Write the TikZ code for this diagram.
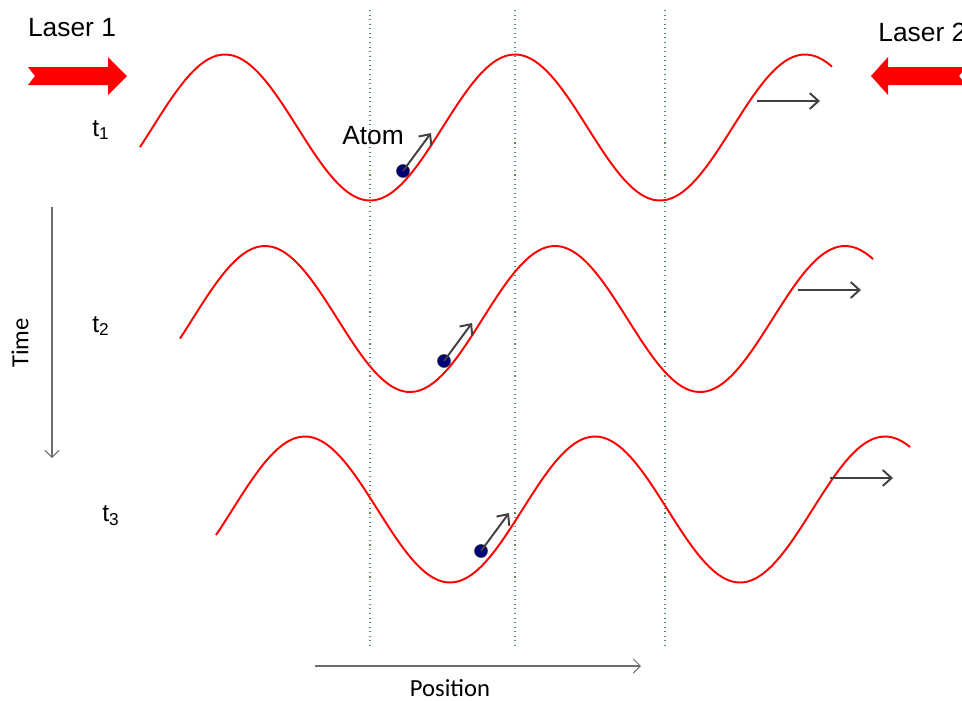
\documentclass[tikz,border=0pt]{standalone}
\usepackage{fontspec}
\setmainfont{Liberation Sans}
\newfontfamily\calibri{Carlito}
\usetikzlibrary{arrows.meta, positioning}

\definecolor{laserred}{RGB}{255,0,0}
\definecolor{arrowgray}{RGB}{64,64,64}
\definecolor{axisgray}{RGB}{110,110,110}
\definecolor{guidegreen}{RGB}{100,140,100}
\definecolor{atomblue}{RGB}{0,0,120}

\begin{document}
\begin{tikzpicture}[x=0.02cm, y=-0.02cm,
    wave/.style={laserred, line width=1.1pt},
    guide/.style={guidegreen, dotted, line width=0.6pt},
    atom/.style={circle, fill=atomblue, draw=black!80, line width=0.3pt, minimum size=0.26cm, inner sep=0pt},
    kick/.style={arrowgray, line width=1.1pt, -{Straight Barb[length=5pt, width=9pt]}},
    drift/.style={arrowgray, line width=1.1pt, -{Straight Barb[length=5pt, width=9pt]}},
    axis/.style={axisgray, line width=0.6pt, -{Straight Barb[length=4pt, width=8pt]}},
    label/.style={font=\fontsize{15}{18}\selectfont, inner sep=0pt},
    tlabel/.style={font=\fontsize{14}{17}\selectfont, inner sep=0pt},
    axislabel/.style={font=\calibri\fontsize{14}{17}\selectfont, inner sep=0pt}]

    \useasboundingbox (0,0) rectangle (962,700);
    \clip (0,0) rectangle (962,700);

    % dotted guides
    \draw[guide] (370,10) -- (370,645);
    \draw[guide] (515,10) -- (515,645);
    \draw[guide] (665,10) -- (665,645);

    % lasers
    \fill[laserred] (28,67) -- (108,67) -- (108,57) -- (127,76) -- (108,95) -- (108,85) -- (28,85) -- (35,76) -- cycle;
    \fill[laserred] (871,76) -- (888,57) -- (888,67) -- (966,67) -- (959,76) -- (966,85) -- (888,85) -- (888,95) -- cycle;
    \node[label] (laser1) at (72,28) {Laser 1};
    \node[label, anchor=west] (laser2) at (878,32) {Laser 2};

    % waves, atoms and their motion
    \foreach \n/\s/\yc/\xa/\xb/\ax/\ay/\dx/\dy in {
        1/0/127.5/140/832/403/171/757/101,
        2/40/319/180/873/444/361/798/290,
        3/80/509.5/216/910/481/551/830/478}
    {
        \draw[wave] plot[domain=\xa:\xb, samples=160, smooth] (\x, {\yc - 73*cos((\x-225-\s)*1.24138)});
        \node[atom] (atom\n) at (\ax,\ay) {};
        \coordinate (kick\n) at (\ax+28,\ay-38);
        \draw[kick] (atom\n.center) -- (kick\n);
        \coordinate (drift\n a) at (\dx,\dy);
        \coordinate (drift\n b) at (\dx+63,\dy);
        \draw[drift] (drift\n a) -- (drift\n b);
    }

    \node[label] (atomlabel) at (373,136) {Atom};
    \node[tlabel] (t1) at (101,130) {t\textsubscript{1}};
    \node[tlabel] (t2) at (101,326) {t\textsubscript{2}};
    \node[tlabel] (t3) at (111,516) {t\textsubscript{3}};

    % axes
    \coordinate (time a) at (52,207);
    \coordinate (time b) at (52,458);
    \draw[axis] (time a) -- (time b);
    \node[axislabel, rotate=90] (time) at (20,343) {Time};
    \coordinate (pos a) at (315,666);
    \coordinate (pos b) at (641,666);
    \draw[axis] (pos a) -- (pos b);
    \node[axislabel] (position) at (450,688) {Position};
\end{tikzpicture}
\end{document}
